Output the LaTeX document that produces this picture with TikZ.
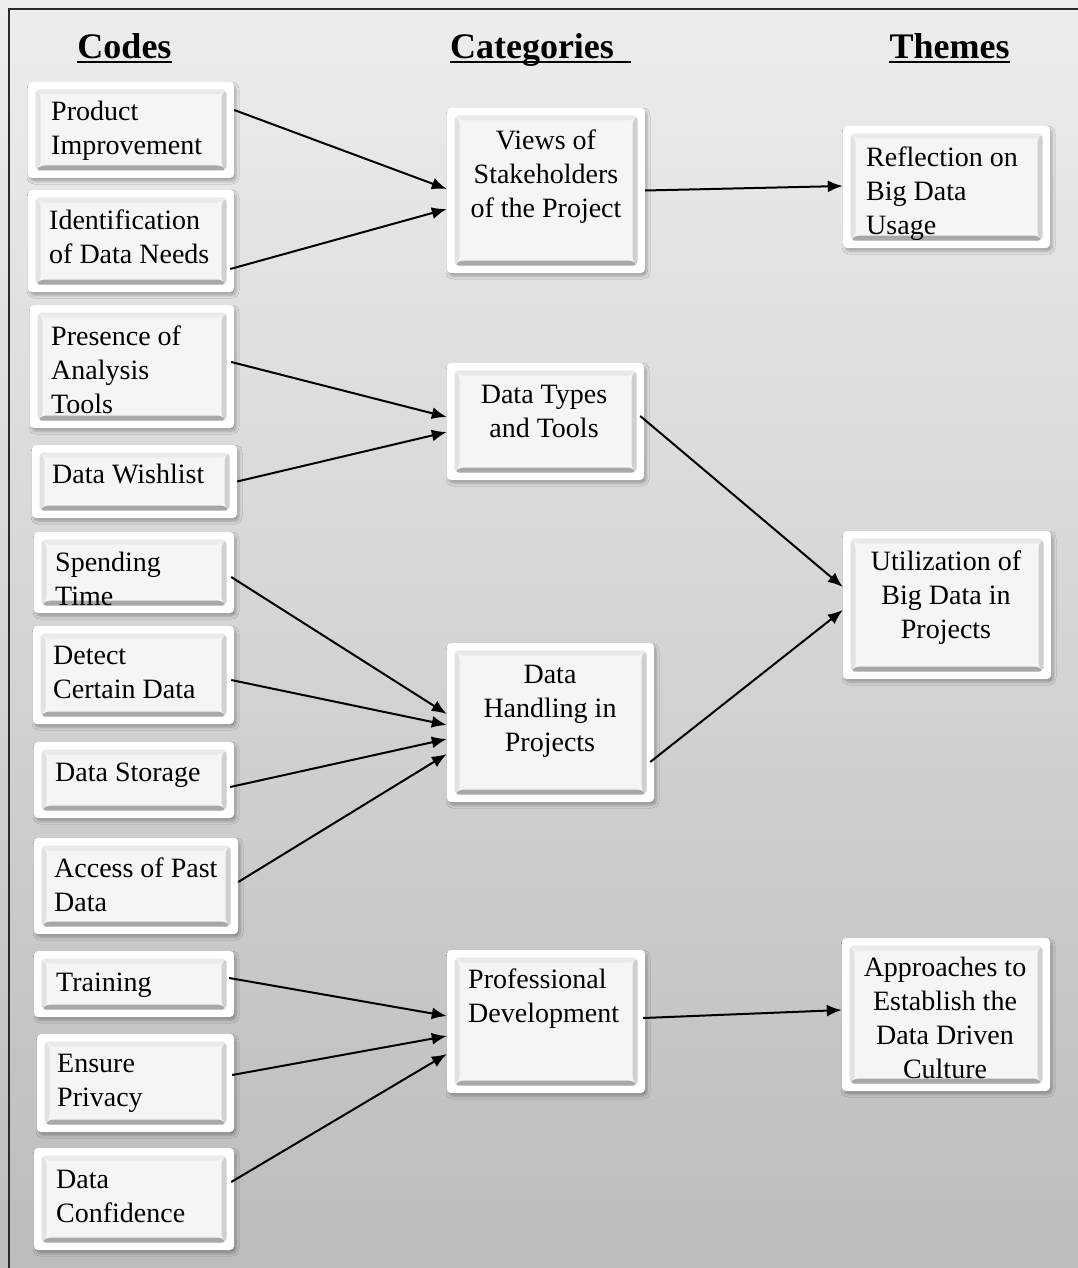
\documentclass[tikz,border=0pt]{standalone}
\usepackage{fontspec}
\setmainfont{Liberation Serif}
\usetikzlibrary{calc,arrows.meta,shadows.blur}
\definecolor{bgtop}{HTML}{EDEDED}
\definecolor{bgbot}{HTML}{BCBCBC}
\definecolor{face}{HTML}{F5F5F5}
\definecolor{bvtop}{HTML}{EAEAEA}
\definecolor{bvleft}{HTML}{E2E2E2}
\definecolor{bvright}{HTML}{D0D0D0}
\definecolor{bvbot}{HTML}{A8A8A8}
\definecolor{frame}{HTML}{2A2A2A}
\tikzset{
  bevelbox/.style={fill=white, draw=none, rounded corners=4pt, inner sep=0pt,
    blur shadow={shadow xshift=2pt, shadow yshift=-3pt, shadow blur radius=3pt, shadow opacity=30},
    path picture={
      \coordinate (bSW) at ($(path picture bounding box.south west)+(7.5pt,7.5pt)$);
      \coordinate (bNE) at ($(path picture bounding box.north east)+(-7.5pt,-7.5pt)$);
      \fill[face] (bSW) rectangle (bNE);
      \fill[bvtop] (bSW|-bNE) -- (bNE) -- ++(-5pt,-5pt) -- ($(bSW|-bNE)+(5pt,-5pt)$) -- cycle;
      \fill[bvleft] (bSW) -- (bSW|-bNE) -- ++(5pt,-5pt) -- ($(bSW)+(5pt,5pt)$) -- cycle;
      \fill[bvright] (bSW-|bNE) -- (bNE) -- ++(-5pt,-5pt) -- ($(bSW-|bNE)+(-5pt,5pt)$) -- cycle;
      \fill[bvbot] (bSW) -- (bSW-|bNE) -- ++(-5pt,5pt) -- ($(bSW)+(5pt,5pt)$) -- cycle;
    }},
  txt/.style={font=\fontsize{28}{34}\selectfont, inner sep=0pt, text=black},
  hdr/.style={font=\fontsize{36}{40}\selectfont\bfseries, inner sep=0pt, anchor=base},
  uline/.style={line width=2pt, black},
  conn/.style={line width=2pt, -{Latex[length=15pt,width=12pt]}},
}
\begin{document}
\begin{tikzpicture}[x=1pt,y=-1pt]
\useasboundingbox (0,0) rectangle (1078,1268);
\shade[top color=bgtop, bottom color=bgbot] (0,0) rectangle (1078,1268);
\draw[frame, line width=2pt] (9,1268) -- (9,9) -- (1078,9);

% headers
\node[hdr] (hcodes) at (124.5,59) {Codes};
\node[hdr] (hcats) at (532,59) {Categories};
\node[hdr] (hthemes) at (949.5,59) {Themes};
\draw[uline] ([yshift=-3.5pt]hcodes.base west) -- ([yshift=-3.5pt]hcodes.base east);
\draw[uline] ([yshift=-3.5pt]hcats.base west) -- ([yshift=-3.5pt,xshift=17pt]hcats.base east);
\draw[uline] ([yshift=-3.5pt]hthemes.base west) -- ([yshift=-3.5pt]hthemes.base east);

% code boxes
\node[bevelbox, minimum width=206pt, minimum height=96pt] (c1) at (131,130) {};
\node[bevelbox, minimum width=206pt, minimum height=102pt] (c2) at (131,241) {};
\node[bevelbox, minimum width=204pt, minimum height=123pt] (c3) at (132,366.5) {};
\node[bevelbox, minimum width=205pt, minimum height=73pt] (c4) at (134.5,481.5) {};
\node[bevelbox, minimum width=200pt, minimum height=81pt] (c5) at (134,572.5) {};
\node[bevelbox, minimum width=201pt, minimum height=98pt] (c6) at (133.5,675) {};
\node[bevelbox, minimum width=200pt, minimum height=76pt] (c7) at (134,780) {};
\node[bevelbox, minimum width=204pt, minimum height=96pt] (c8) at (136,886) {};
\node[bevelbox, minimum width=200pt, minimum height=66pt] (c9) at (134,984) {};
\node[bevelbox, minimum width=197pt, minimum height=98pt] (c10) at (135.5,1083) {};
\node[bevelbox, minimum width=200pt, minimum height=102pt] (c11) at (134,1199) {};

% category boxes
\node[bevelbox, minimum width=198pt, minimum height=165pt] (k1) at (546,190.5) {};
\node[bevelbox, minimum width=197pt, minimum height=117pt] (k2) at (545.5,421.5) {};
\node[bevelbox, minimum width=207pt, minimum height=159pt] (k3) at (550.5,722.5) {};
\node[bevelbox, minimum width=198pt, minimum height=143pt] (k4) at (546,1021.5) {};

% theme boxes
\node[bevelbox, minimum width=207pt, minimum height=122pt] (m1) at (946.5,187) {};
\node[bevelbox, minimum width=208pt, minimum height=148pt] (m2) at (947,605) {};
\node[bevelbox, minimum width=208pt, minimum height=153pt] (m3) at (946,1014.5) {};

% texts
\node[txt, align=left, anchor=west] (tc1) at (51,131) {Product\\Improvement};
\node[txt, align=left, anchor=west] (tc2) at (49,237) {Identification\\of Data Needs};
\node[txt, align=left, anchor=west] (tc3) at (51,370) {Presence of\\Analysis\\Tools};
\node[txt, align=left, anchor=west] (tc4) at (52,474) {Data Wishlist};
\node[txt, align=left, anchor=west] (tc5) at (55,579) {Spending\\Time};
\node[txt, align=left, anchor=west] (tc6) at (53,672) {Detect\\Certain Data};
\node[txt, align=left, anchor=west] (tc7) at (55,775) {Data Storage};
\node[txt, align=left, anchor=west] (tc8) at (54,885) {Access of Past\\Data};
\node[txt, align=left, anchor=west] (tc9) at (56,985) {Training};
\node[txt, align=left, anchor=west] (tc10) at (57,1083) {Ensure\\Privacy};
\node[txt, align=left, anchor=west] (tc11) at (56,1196) {Data\\Confidence};

\node[txt, align=center] (tk1) at (546,177) {Views of\\Stakeholders\\of the Project};
\node[txt, align=center] (tk2) at (544,411) {Data Types\\and Tools};
\node[txt, align=center] (tk3) at (550,711) {Data\\Handling in\\Projects};
\node[txt, align=left, anchor=west] (tk4) at (468,999) {Professional\\Development};

\node[txt, align=left, anchor=west] (tm1) at (866,194) {Reflection on\\Big Data\\Usage};
\node[txt, align=center] (tm2) at (946,598) {Utilization of\\Big Data in\\Projects};
\node[txt, align=center] (tm3) at (945,1018) {Approaches to\\Establish the\\Data Driven\\Culture};

% connectors
\draw[conn] ([yshift=20pt]c1.east) -- ([yshift=1.5pt]k1.west);
\draw[conn] ([yshift=-28pt,xshift=-4pt]c2.east) -- ([yshift=-18.5pt]k1.west);
\draw[conn] ([yshift=0pt]k1.east) -- ([yshift=1pt]m1.west);
\draw[conn] ([yshift=4.5pt,xshift=-3pt]c3.east) -- ([yshift=4.5pt]k2.west);
\draw[conn] ([yshift=0pt]c4.east) -- ([yshift=-10.5pt]k2.west);
\draw[conn] ([yshift=5.5pt,xshift=-4pt]k2.east) -- ([yshift=18pt]m2.west);
\draw[conn] ([yshift=-4.5pt,xshift=-3pt]c5.east) -- ([yshift=8.5pt]k3.west);
\draw[conn] ([yshift=-5pt,xshift=-3pt]c6.east) -- ([yshift=-2.5pt]k3.west);
\draw[conn] ([yshift=-7pt,xshift=-4pt]c7.east) -- ([yshift=-16.5pt]k3.west);
\draw[conn] ([yshift=4pt]c8.east) -- ([yshift=-31.5pt]k3.west);
\draw[conn] ([yshift=-39.5pt,xshift=-4pt]k3.east) -- ([yshift=-5pt]m2.west);
\draw[conn] ([yshift=6pt,xshift=-5pt]c9.east) -- ([yshift=5.5pt]k4.west);
\draw[conn] ([yshift=8pt,xshift=-2pt]c10.east) -- ([yshift=-14.5pt]k4.west);
\draw[conn] ([yshift=17pt,xshift=-3pt]c11.east) -- ([yshift=-32.5pt]k4.west);
\draw[conn] ([yshift=3.5pt,xshift=-2pt]k4.east) -- ([yshift=4.5pt]m3.west);
\end{tikzpicture}
\end{document}
